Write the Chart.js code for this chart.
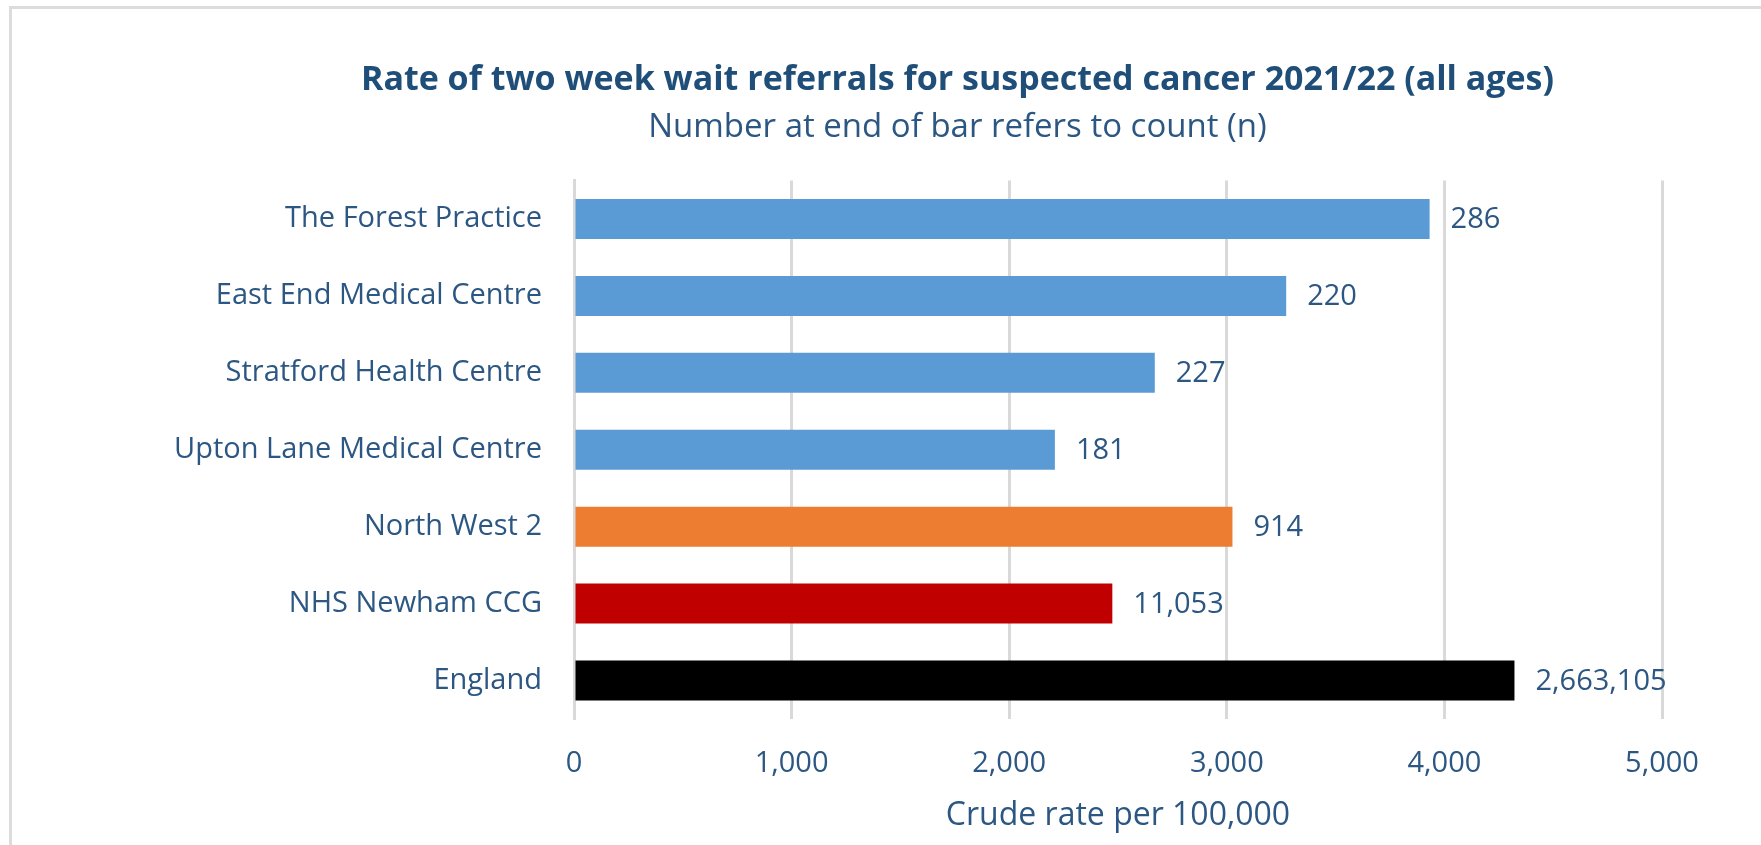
<!DOCTYPE html>
<html>
<head>
<meta charset="utf-8">
<script src="https://cdn.jsdelivr.net/npm/chart.js@4.4.1/dist/chart.umd.min.js"></script>
<style>
  html, body { margin: 0; padding: 0; background: #ffffff; overflow: hidden; }
  #frame { position: absolute; left: 9px; top: 6px; width: 2000px; height: 2000px;
           border-left: 3px solid #DCDCDC; border-top: 3px solid #DCDCDC; box-sizing: border-box; }
  #c { position: absolute; left: 0; top: 0; }
</style>
</head>
<body>
<div id="frame"></div>
<canvas id="c" width="1761" height="845"></canvas>
<script>
// ---- data ----
const categories = [
  'The Forest Practice',
  'East End Medical Centre',
  'Stratford Health Centre',
  'Upton Lane Medical Centre',
  'North West 2',
  'NHS Newham CCG',
  'England'
];
const crudeRates = [3932, 3273, 2669, 2210, 3026, 2474, 4322];
const counts = [286, 220, 227, 181, 914, 11053, 2663105];
const barColours = ['#5B9BD5', '#5B9BD5', '#5B9BD5', '#5B9BD5', '#ED7D31', '#C00000', '#000000'];
const xTicks = [0, 1000, 2000, 3000, 4000, 5000];
const titleText = 'Rate of two week wait referrals for suspected cancer 2021/22 (all ages)';
const subtitleText = 'Number at end of bar refers to count (n)';
const xAxisTitle = 'Crude rate per 100,000';

// ---- styles ----
const FONT = "'Open Sans', sans-serif";
const TEXT = '#2C5783';
const TITLE = '#1F4E79';
const GRID = '#D9D9D9';

const fmt = v => Number(v).toLocaleString('en-US');

const headings = {
  id: 'headings',
  afterDraw(chart) {
    const ctx = chart.ctx;
    ctx.save();
    ctx.textAlign = 'center';
    ctx.textBaseline = 'alphabetic';
    ctx.fillStyle = TITLE;
    ctx.font = 'bold 34px ' + FONT;
    ctx.fillText(titleText, 957.5, 90);
    ctx.fillStyle = TEXT;
    ctx.font = '33px ' + FONT;
    ctx.fillText(subtitleText, 957.5, 137);
    ctx.restore();
  }
};

const countLabels = {
  id: 'countLabels',
  afterDatasetsDraw(chart) {
    const ctx = chart.ctx;
    const meta = chart.getDatasetMeta(0);
    ctx.save();
    ctx.font = '29px ' + FONT;
    ctx.fillStyle = TEXT;
    ctx.textAlign = 'left';
    ctx.textBaseline = 'middle';
    meta.data.forEach((bar, i) => {
      ctx.fillText(fmt(counts[i]), bar.x + 21, bar.y + 1);
    });
    ctx.restore();
  }
};

new Chart(document.getElementById('c'), {
  type: 'bar',
  data: {
    labels: categories,
    datasets: [{
      data: crudeRates,
      backgroundColor: barColours,
      borderWidth: 0,
      barPercentage: 0.52,
      categoryPercentage: 1.0
    }]
  },
  options: {
    indexAxis: 'y',
    responsive: false,
    animation: false,
    devicePixelRatio: 1,
    layout: { padding: { left: 0, right: 99, top: 180.5, bottom: 0 } },
    plugins: {
      legend: { display: false },
      tooltip: { enabled: false },
      title: { display: false },
      subtitle: { display: false }
    },
    scales: {
      x: {
        type: 'linear',
        min: 0,
        max: 5000,
        afterBuildTicks(scale) { scale.ticks = xTicks.map(v => ({ value: v })); },
        afterFit(scale) { scale.height = 126; },
        ticks: {
          color: TEXT,
          font: { family: FONT, size: 29 },
          padding: 27,
          maxRotation: 0,
          callback: v => fmt(v)
        },
        grid: { color: GRID, lineWidth: 3, drawTicks: false },
        border: { display: false },
        title: {
          display: true,
          text: xAxisTitle,
          color: TEXT,
          font: { family: FONT, size: 32 },
          padding: { top: 0, bottom: 10 }
        }
      },
      y: {
        type: 'category',
        afterFit(scale) { scale.width = 574; },
        ticks: {
          color: TEXT,
          font: { family: FONT, size: 29 },
          padding: 32
        },
        grid: { display: false, drawTicks: false },
        border: { display: true, color: GRID, width: 3 }
      }
    }
  },
  plugins: [countLabels, headings]
});
</script>
</body>
</html>
